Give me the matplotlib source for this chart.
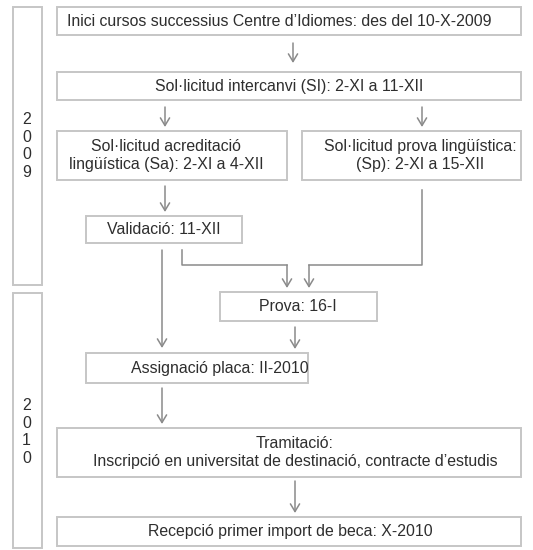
import matplotlib.pyplot as plt
from matplotlib.patches import Rectangle

## textos del diagrama
steps = [
    "Inici cursos successius Centre d\u2019Idiomes: des del 10-X-2009",
    "Sol\u00b7licitud intercanvi (SI): 2-XI a 11-XII",
    "Sol\u00b7licitud acreditaci\u00f3\nling\u00fc\u00edstica (Sa): 2-XI a 4-XII",
    "Sol\u00b7licitud prova ling\u00fc\u00edstica:\n(Sp): 2-XI a 15-XII",
    "Validaci\u00f3: 11-XII",
    "Prova: 16-I",
    "Assignaci\u00f3 placa: II-2010",
    "Tramitaci\u00f3:\nInscripci\u00f3 en universitat de destinaci\u00f3, contracte d\u2019estudis",
    "Recepci\u00f3 primer import de beca: X-2010",
]
years = ["2009", "2010"]

## posicions (px): x0, y0, x1, y1, x del text
boxes = [
    (57, 7, 521, 35, 279),
    (57, 72, 521, 100, 289),
    (57, 131, 287, 180, 166),
    (302, 131, 521, 180, 420),
    (86, 216, 242, 243, 164),
    (220, 292, 377, 321, 298),
    (86, 353, 308, 383, 220),
    (57, 428, 521, 477, 295),
    (57, 517, 521, 546, 290),
]
year_boxes = [(13, 7, 42, 285, 146), (13, 293, 42, 548, 432)]

plt.rcParams['font.family'] = ['Liberation Sans', 'DejaVu Sans']
fig = plt.figure(figsize=(5.33, 5.5), dpi=100)
ax = fig.add_axes([0, 0, 1, 1])
ax.set_xlim(0, 533)
ax.set_ylim(550, 0)
ax.axis('off')

edge = '#c6c6c6'
txt = '#2e2e2e'
arr = '#8a8a8a'

for (x0, y0, x1, y1, cy), lab in zip(year_boxes, years):
    ax.add_patch(Rectangle((x0, y0), x1 - x0, y1 - y0, fill=False, ec=edge, lw=1.4))
    ax.text((x0 + x1) / 2 - 1, cy, "\n".join(lab), ha='center', va='center',
            fontsize=11.4, color=txt, linespacing=1.2)

for (x0, y0, x1, y1, tx), lab in zip(boxes, steps):
    ax.add_patch(Rectangle((x0, y0), x1 - x0, y1 - y0, fill=False, ec=edge, lw=1.4))
    ax.text(tx, (y0 + y1) / 2, lab, ha='center', va='center',
            fontsize=11.4, color=txt, linespacing=1.2)


def arrow(x, y0, y1):
    ax.annotate('', xy=(x, y1), xytext=(x, y0),
                arrowprops=dict(arrowstyle='->,head_length=0.55,head_width=0.33',
                                color=arr, lw=1.1, shrinkA=0, shrinkB=0))


## fletxes
arrow(293, 43, 63)
arrow(165, 107, 127)
arrow(422, 107, 127)
arrow(165, 186, 212)
arrow(162, 250, 348)
arrow(295, 327, 349)
arrow(162, 388, 424)
arrow(295, 481, 513)

## connexions cap a Prova
ax.plot([182, 182, 287], [250, 265, 265], color=arr, lw=1.1)
arrow(287, 265, 288)
ax.plot([422, 422, 309], [190, 265, 265], color=arr, lw=1.1)
arrow(309, 265, 288)

plt.savefig('out.png', dpi=100, facecolor='white')
